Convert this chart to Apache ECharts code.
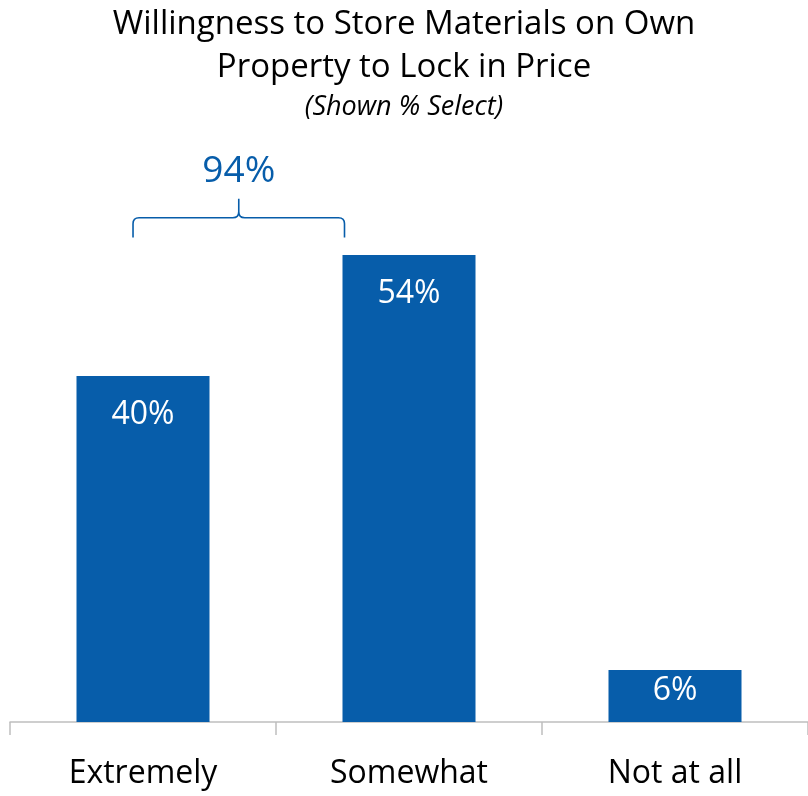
<!DOCTYPE html>
<html><head><meta charset="utf-8">
<script src="https://cdn.jsdelivr.net/npm/echarts@6/dist/echarts.min.js"></script>
<style>html,body{margin:0;padding:0;background:#fff}#c{width:808px;height:796px}</style>
</head><body><div id="c"></div>
<script>
const categories = ['Extremely', 'Somewhat', 'Not at all'];
const values = [40, 54, 6];
const bracketFrom = 0, bracketTo = 1;
const bracketTotal = 94;
const titleText = 'Willingness to Store Materials on Own\nProperty to Lock in Price';
const subText = '(Shown % Select)';

const BLUE = '#075DAA';
const FONT = '"Open Sans"';
const chart = echarts.init(document.getElementById('c'));

function renderBracket(params, api) {
  const v0 = api.coord([api.value(0), 0]);
  const v1 = api.coord([api.value(1), 0]);
  const bw = api.size([1, 0])[0] * 0.5;
  const L = v0[0] - bw * 0.075;
  const R = v1[0] - bw / 2 + 2;
  const C = (L + R) / 2;
  const yEnd = api.coord([0, 56])[1];
  const yBar = api.coord([0, 58.3])[1];
  const yPeak = api.coord([0, 60.5])[1];
  const yLab = api.coord([0, 63.6])[1];
  const r = 6;
  const d = [
    'M', L, yEnd, 'L', L, yBar + r, 'Q', L, yBar, L + r, yBar,
    'L', C - r, yBar, 'Q', C, yBar, C, yBar - r, 'L', C, yPeak,
    'M', C, yBar - r, 'Q', C, yBar, C + r, yBar,
    'L', R - r, yBar, 'Q', R, yBar, R, yBar + r, 'L', R, yEnd
  ].join(' ');
  return {
    type: 'group',
    children: [
      { type: 'path', shape: { pathData: d }, style: { fill: 'none', stroke: BLUE, lineWidth: 1.6 } },
      { type: 'text', x: C, y: yLab, style: { text: api.value(2) + '%', fill: BLUE, font: '37px ' + FONT, align: 'center', verticalAlign: 'middle' } }
    ]
  };
}

chart.setOption({
  animation: false,
  title: {
    text: titleText,
    subtext: subText,
    left: 'center',
    top: -2,
    itemGap: 2,
    textStyle: { fontFamily: FONT, fontSize: 33, fontWeight: 'normal', color: '#000', lineHeight: 43 },
    subtextStyle: { fontFamily: FONT, fontSize: 27, fontStyle: 'italic', color: '#000', lineHeight: 32 }
  },
  grid: { left: 10, right: 0, bottom: 74, top: 116.5, containLabel: false },
  xAxis: {
    type: 'category',
    data: categories,
    axisLine: { lineStyle: { color: '#bfbfbf', width: 1.5 } },
    axisTick: { show: true, length: 13, lineStyle: { color: '#bfbfbf', width: 1.5 } },
    axisLabel: { color: '#000', fontFamily: FONT, fontSize: 32, margin: 36 }
  },
  yAxis: { type: 'value', min: 0, max: 70, show: false, splitLine: { show: false } },
  series: [
    {
      type: 'bar',
      barWidth: '50%',
      itemStyle: { color: BLUE },
      label: { show: true, position: 'insideTop', distance: 23, color: '#fff', fontFamily: FONT, fontSize: 32, formatter: '{c}%' },
      data: values.map((v, i) => (v < 10 ? { value: v, label: { distance: 5 } } : v))
    },
    {
      type: 'custom',
      renderItem: renderBracket,
      clip: false,
      silent: true,
      data: [[bracketFrom, bracketTo, bracketTotal]]
    }
  ]
});
</script></body></html>
